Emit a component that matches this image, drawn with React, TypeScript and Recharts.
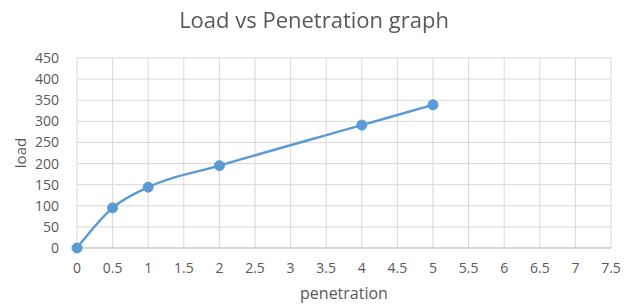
import React from 'react';
import {
  LineChart,
  Line,
  XAxis,
  YAxis,
  CartesianGrid,
} from 'recharts';

const penetration = [0, 0.5, 1, 2, 4, 5];
const load = [0, 95, 144, 195, 291, 339];
const xTicks = [0, 0.5, 1, 1.5, 2, 2.5, 3, 3.5, 4, 4.5, 5, 5.5, 6, 6.5, 7, 7.5];
const yTicks = [0, 50, 100, 150, 200, 250, 300, 350, 400, 450];

const FONT = 'Open Sans, Noto Sans, sans-serif';
const TEXT = '#595959';

export default function App() {
  const data = penetration.map((p, i) => ({ penetration: p, load: load[i] }));

  return (
    <div style={{ position: 'fixed', left: 0, top: 0, width: 638, height: 306, background: '#fff', fontFamily: FONT, color: TEXT }}>
      <LineChart
        width={638}
        height={306}
        data={data}
        margin={{ top: 58, right: 27, left: 17, bottom: 0 }}
      >
        <CartesianGrid stroke="#d9d9d9" strokeWidth={1} />
        <XAxis
          dataKey="penetration"
          type="number"
          domain={[0, 7.5]}
          ticks={xTicks}
          interval={0}
          height={58}
          tickLine={false}
          axisLine={{ stroke: '#bfbfbf' }}
          tick={{ fill: TEXT, fontSize: 14, fontFamily: FONT }}
          tickMargin={9}
        />
        <YAxis
          type="number"
          domain={[0, 450]}
          ticks={yTicks}
          interval={0}
          width={60}
          tickLine={false}
          axisLine={false}
          tick={{ fill: TEXT, fontSize: 14, fontFamily: FONT }}
          tickMargin={12}
        />
        <Line
          dataKey="load"
          type="monotone"
          stroke="#5b9bd5"
          strokeWidth={2.5}
          dot={{ r: 5, fill: '#5b9bd5', stroke: '#5b9bd5', strokeWidth: 1 }}
          isAnimationActive={false}
        />
      </LineChart>
      <div
        style={{
          position: 'absolute',
          top: 4,
          left: -10,
          width: 648,
          textAlign: 'center',
          fontSize: 22,
          whiteSpace: 'nowrap',
        }}
      >
        Load vs Penetration graph
      </div>
      <div
        style={{
          position: 'absolute',
          top: 282,
          left: 244,
          width: 200,
          textAlign: 'center',
          fontSize: 16,
          whiteSpace: 'nowrap',
        }}
      >
        penetration
      </div>
      <div
        style={{
          position: 'absolute',
          left: 20,
          top: 153,
          fontSize: 15,
          whiteSpace: 'nowrap',
          transform: 'translate(-50%, -50%) rotate(-90deg)',
        }}
      >
        load
      </div>
    </div>
  );
}
